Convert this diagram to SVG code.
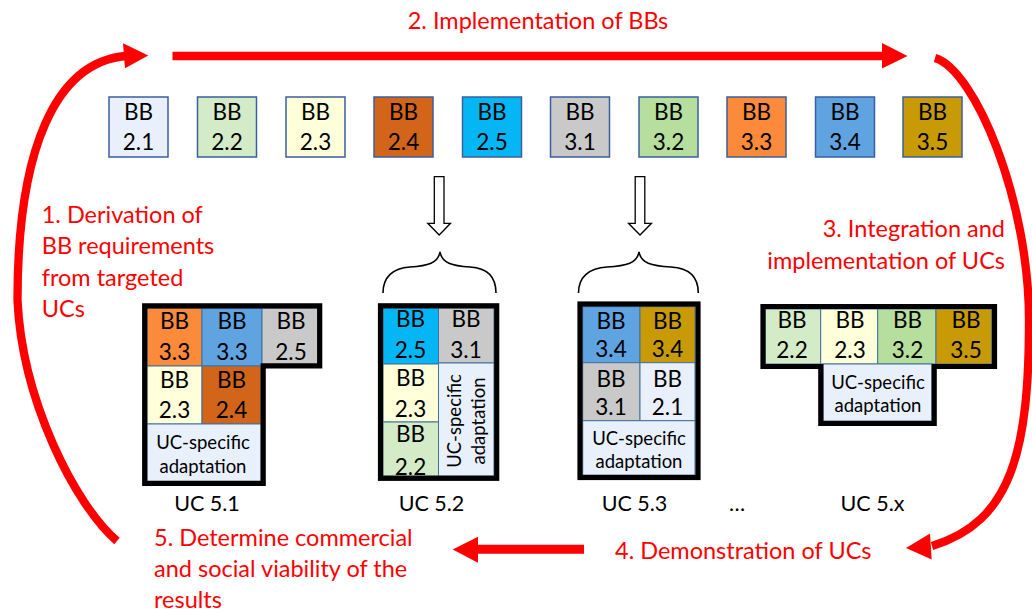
<svg xmlns="http://www.w3.org/2000/svg" width="1032" height="613" viewBox="0 0 1032 613">
<style>
text{font-family:Lato,"Liberation Sans",Arial,sans-serif;}
.bb{font-size:22.5px;text-anchor:middle;fill:#000;}
.ad{font-size:18.5px;text-anchor:middle;fill:#000;}
.uc{font-size:21.5px;text-anchor:middle;fill:#000;}
.red{font-size:23.5px;fill:#FF0000;}
.box{stroke:#3A5FA0;stroke-width:1.5;}
.cell{stroke:#41719C;stroke-width:1;}
.outline{fill:none;stroke:#000;stroke-width:5.2;stroke-linejoin:miter;}
.arc{fill:none;stroke:#FF0000;stroke-width:8.3;}
.head{fill:#FF0000;}
.down{fill:#fff;stroke:#000;stroke-width:1.3;}
.brace{fill:none;stroke:#000;stroke-width:1.6;}
.c21{fill:#E9F0FC}.c22{fill:#D3EBC6}.c23{fill:#FFFFD9}.c24{fill:#D2651A}.c25{fill:#04B6F4}
.c31{fill:#C9C9C9}.c32{fill:#B6DE9C}.c33{fill:#FB8A3B}.c34{fill:#5FA3E0}.c35{fill:#C89B06}.cad{fill:#E8F0FC}
</style>

<g id="connectors">
  <path class="arc" d="M117 541 C75 505 22 400 17.5 300 C17.5 150 55 62 126 56"/>
  <polygon class="head" points="123,43.3 148.3,55.5 125,68.3"/>
  <line x1="172.5" y1="56" x2="883" y2="56" stroke="#FF0000" stroke-width="8.3"/>
  <polygon class="head" points="882,43 907.5,56 882,68.5"/>
  <path class="arc" d="M935 58 C975 70 1029 200 1029 320 C1029 450 1012 522 932 546" stroke-width="8"/>
  <polygon class="head" points="930,533.6 906,548 931.7,559.5"/>
  <line x1="584" y1="549.3" x2="477" y2="549.3" stroke="#FF0000" stroke-width="9"/>
  <polygon class="head" points="478,536.7 452.7,549.5 478,562.7"/>
  <polygon class="down" points="434.3,176.7 444,176.7 444,223.3 450.5,223.3 439.2,235 427.8,223.3 434.3,223.3"/>
  <polygon class="down" points="635.2,176.7 644.8,176.7 644.8,223.3 651.5,223.3 640,235 628.5,223.3 635.2,223.3"/>
  <path class="brace" d="M383 293 C383 277 393 268 410 267 C428 266 438 263 440 252 C442 263 452 266 470 267 C487 268 496 277 496 293"/>
  <path class="brace" d="M578.5 293 C578.5 277 589 268 607 267 C627 266 637 263 639 252 C641 263 651 266 671 267 C689 268 698.3 277 698.3 293"/>
</g>

<g id="bb-2-1"><rect class="box c21" x="109" y="97" width="59" height="60"/><text class="bb" x="138.5" y="120">BB</text><text class="bb" x="138.5" y="150">2.1</text></g>
<g id="bb-2-2"><rect class="box c22" x="197.5" y="97" width="59" height="60"/><text class="bb" x="227" y="120">BB</text><text class="bb" x="227" y="150">2.2</text></g>
<g id="bb-2-3"><rect class="box c23" x="286" y="97" width="59" height="60"/><text class="bb" x="315.5" y="120">BB</text><text class="bb" x="315.5" y="150">2.3</text></g>
<g id="bb-2-4"><rect class="box c24" x="374" y="97" width="59" height="60"/><text class="bb" x="403.5" y="120">BB</text><text class="bb" x="403.5" y="150">2.4</text></g>
<g id="bb-2-5"><rect class="box c25" x="462.5" y="97" width="59" height="60"/><text class="bb" x="492" y="120">BB</text><text class="bb" x="492" y="150">2.5</text></g>
<g id="bb-3-1"><rect class="box c31" x="550.5" y="97" width="59" height="60"/><text class="bb" x="580" y="120">BB</text><text class="bb" x="580" y="150">3.1</text></g>
<g id="bb-3-2"><rect class="box c32" x="639" y="97" width="59" height="60"/><text class="bb" x="668.5" y="120">BB</text><text class="bb" x="668.5" y="150">3.2</text></g>
<g id="bb-3-3"><rect class="box c33" x="727" y="97" width="59" height="60"/><text class="bb" x="756.5" y="120">BB</text><text class="bb" x="756.5" y="150">3.3</text></g>
<g id="bb-3-4"><rect class="box c34" x="815.5" y="97" width="59" height="60"/><text class="bb" x="845" y="120">BB</text><text class="bb" x="845" y="150">3.4</text></g>
<g id="bb-3-5"><rect class="box c35" x="903" y="97" width="59" height="60"/><text class="bb" x="932.5" y="120">BB</text><text class="bb" x="932.5" y="150">3.5</text></g>

<g id="uc-5-1">
  <rect class="cell c33" x="147" y="308" width="55" height="58"/>
  <rect class="cell c34" x="202" y="308" width="60" height="58"/>
  <rect class="cell c31" x="262" y="308" width="56" height="58"/>
  <rect class="cell c23" x="147" y="366" width="55" height="58"/>
  <rect class="cell c24" x="202" y="366" width="59" height="58"/>
  <rect class="cell cad" x="147" y="424" width="114" height="58"/>
  <text class="bb" x="174.5" y="329">BB</text><text class="bb" x="174.5" y="360">3.3</text>
  <text class="bb" x="232" y="329">BB</text><text class="bb" x="232" y="360">3.3</text>
  <text class="bb" x="291" y="329">BB</text><text class="bb" x="291" y="360">2.5</text>
  <text class="bb" x="174.5" y="388">BB</text><text class="bb" x="174.5" y="418">2.3</text>
  <text class="bb" x="231.5" y="388">BB</text><text class="bb" x="231.5" y="418">2.4</text>
  <text class="ad" x="203" y="449">UC-specific</text><text class="ad" x="203" y="473">adaptation</text>
  <path class="outline" d="M144.7 305.8 H319.7 V365.8 H263.2 V483.3 H144.7 Z"/>
  <text class="uc" x="207" y="511">UC 5.1</text>
</g>

<g id="uc-5-2">
  <rect class="cell c25" x="383" y="308" width="55.5" height="56"/>
  <rect class="cell c23" x="383" y="364" width="55.5" height="58"/>
  <rect class="cell c22" x="383" y="422" width="55.5" height="54"/>
  <rect class="cell c31" x="438.5" y="308" width="55.5" height="55"/>
  <rect class="cell cad" x="438.5" y="363" width="55.5" height="113"/>
  <text class="bb" x="410.5" y="327">BB</text><text class="bb" x="410.5" y="358">2.5</text>
  <text class="bb" x="410.5" y="386">BB</text><text class="bb" x="410.5" y="416.5">2.3</text>
  <text class="bb" x="410.5" y="442">BB</text><text class="bb" x="410.5" y="474.5">2.2</text>
  <text class="bb" x="466" y="327">BB</text><text class="bb" x="466" y="358">3.1</text>
  <text class="ad" transform="translate(461,421) rotate(-90)">UC-specific</text>
  <text class="ad" transform="translate(485,421) rotate(-90)">adaptation</text>
  <rect class="outline" x="380.5" y="305.8" width="116.2" height="172.5"/>
  <text class="uc" x="431.5" y="511">UC 5.2</text>
</g>

<g id="uc-5-3">
  <rect class="cell c34" x="582.7" y="306.7" width="57.3" height="56"/>
  <rect class="cell c35" x="640" y="306.7" width="55" height="56"/>
  <rect class="cell c31" x="582.7" y="362.7" width="57.3" height="58"/>
  <rect class="cell c21" x="640" y="362.7" width="55" height="58"/>
  <rect class="cell cad" x="582.7" y="420.7" width="112.3" height="54.5"/>
  <text class="bb" x="611" y="329">BB</text><text class="bb" x="611" y="357">3.4</text>
  <text class="bb" x="667.5" y="329">BB</text><text class="bb" x="667.5" y="357">3.4</text>
  <text class="bb" x="611" y="386.5">BB</text><text class="bb" x="611" y="415">3.1</text>
  <text class="bb" x="667.5" y="386.5">BB</text><text class="bb" x="667.5" y="415">2.1</text>
  <text class="ad" x="639" y="445">UC-specific</text><text class="ad" x="639" y="468">adaptation</text>
  <rect class="outline" x="580" y="304" width="118" height="173.5" stroke-width="5.5"/>
  <text class="uc" x="634.5" y="511">UC 5.3</text>
</g>

<g id="uc-ellipsis"><text class="uc" x="737" y="511">…</text></g>

<g id="uc-5-x">
  <rect class="cell c22" x="765" y="309" width="55.7" height="55"/>
  <rect class="cell c23" x="820.7" y="309" width="57" height="55"/>
  <rect class="cell c32" x="877.7" y="309" width="58.3" height="55"/>
  <rect class="cell c35" x="936" y="309" width="55.7" height="55"/>
  <rect class="cell cad" x="823" y="364" width="109" height="57"/>
  <text class="bb" x="792" y="328.3">BB</text><text class="bb" x="792" y="358.3">2.2</text>
  <text class="bb" x="850" y="328.3">BB</text><text class="bb" x="850" y="358.3">2.3</text>
  <text class="bb" x="907.5" y="328.3">BB</text><text class="bb" x="907.5" y="358.3">3.2</text>
  <text class="bb" x="966" y="328.3">BB</text><text class="bb" x="966" y="358.3">3.5</text>
  <text class="ad" x="878" y="389.3">UC-specific</text><text class="ad" x="878" y="411.7">adaptation</text>
  <path class="outline" d="M763 306.5 H994.5 V366.5 H934.2 V423.5 H820.8 V366.5 H763 Z"/>
  <text class="uc" x="872.5" y="511">UC 5.x</text>
</g>

<g id="labels">
  <text class="red" x="538" y="29.3" text-anchor="middle">2. Implementation of BBs</text>
  <text class="red" x="41.7" y="222.5">1. Derivation of</text>
  <text class="red" x="41.7" y="254">BB requirements</text>
  <text class="red" x="41.7" y="285.5">from targeted</text>
  <text class="red" x="41.7" y="317">UCs</text>
  <text class="red" x="1005" y="236.7" text-anchor="end">3. Integration and</text>
  <text class="red" x="1005" y="269" text-anchor="end">implementation of UCs</text>
  <text class="red" x="615" y="559">4. Demonstration of UCs</text>
  <text class="red" x="154" y="546">5. Determine commercial</text>
  <text class="red" x="154" y="577">and social viability of the</text>
  <text class="red" x="154" y="608">results</text>
</g>
</svg>
